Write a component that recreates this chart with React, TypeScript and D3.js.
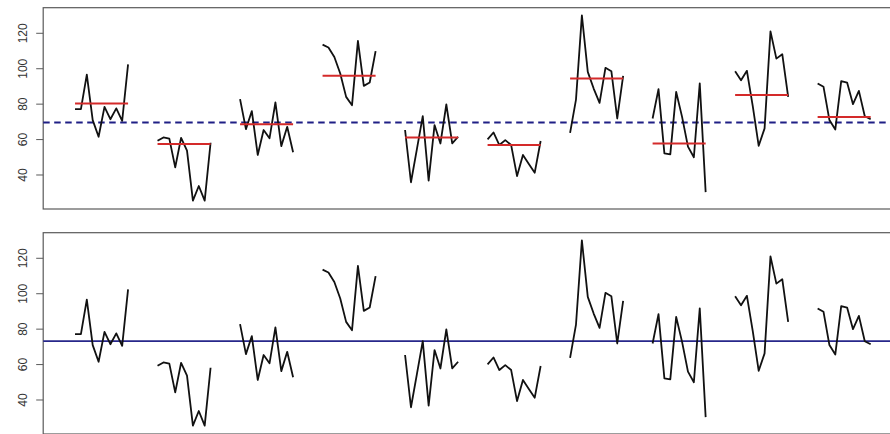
import React from "react";
import * as d3 from "d3";

const groupValues: number[][] = [
  [77.2, 77.2, 96.7, 71.0, 61.6, 78.5, 71.5, 77.6, 70.6, 102.4],
  [59.3, 61.2, 60.5, 44.3, 61.0, 53.7, 25.5, 33.8, 25.5, 58.2],
  [82.8, 65.9, 76.1, 51.3, 65.4, 60.7, 81.0, 56.3, 67.2, 52.8],
  [113.6, 112.0, 106.6, 97.3, 84.1, 79.4, 115.7, 90.3, 92.2, 109.9],
  [65.4, 35.9, 54.5, 73.2, 36.8, 68.2, 57.8, 79.8, 57.8, 61.6],
  [60.1, 64.0, 56.9, 59.7, 56.9, 39.4, 51.3, 46.2, 41.3, 59.2],
  [63.8, 82.6, 130.1, 98.2, 88.8, 80.7, 100.5, 98.6, 71.9, 95.9],
  [71.9, 88.5, 52.2, 51.6, 86.9, 72.8, 56.0, 50.0, 91.7, 30.3],
  [98.6, 93.5, 98.8, 78.7, 56.5, 66.3, 121.1, 105.7, 108.2, 84.1],
  [91.7, 89.8, 71.0, 65.7, 93.0, 92.2, 80.0, 87.5, 73.2, 71.5],
];
const groupMeans: number[] = [80.4, 57.5, 68.7, 96.0, 61.2, 56.9, 94.5, 57.8, 85.1, 72.8];
const topReference = 69.7;
const bottomReference = 73.2;
const yTicks: number[] = [40, 60, 80, 100, 120];
const groupStride = 14;

const W = 890;
const H = 434;
const plotLeft = 43.2;
const plotRight = 902.5;
const panelTops = [7.7, 232.7];
const panelHeight = 201.3;

const xFirst = 1;
const xLast = 1 + groupStride * (groupValues.length - 1) + (groupValues[0].length - 1);
const xPad = (xLast - xFirst) * 0.04;
const x = d3.scaleLinear().domain([xFirst - xPad, xLast + xPad]).range([plotLeft, plotRight]);

const idx = (g: number, j: number) => 1 + groupStride * g + j;

function Panel({ top, showMeans }: { top: number; showMeans: boolean }) {
  const y = d3.scaleLinear().domain([20.8, 134.45]).range([top + panelHeight, top]);
  return (
    <g>
      <rect
        x={plotLeft}
        y={top}
        width={plotRight - plotLeft}
        height={panelHeight}
        fill="none"
        stroke="#5a5a5a"
        strokeWidth={1.2}
      />
      {yTicks.map((t) => (
        <g key={t}>
          <line x1={plotLeft - 7} x2={plotLeft} y1={y(t)} y2={y(t)} stroke="#5a5a5a" strokeWidth={1} />
          <text
            transform={`translate(${22.5},${y(t)}) rotate(-90)`}
            textAnchor="middle"
            dominantBaseline="central"
            fontFamily="Liberation Sans, Arial, sans-serif"
            fontSize={12}
            fill="#333"
          >
            {t}
          </text>
        </g>
      ))}
      {showMeans ? (
        <line
          x1={plotLeft}
          x2={plotRight}
          y1={y(topReference)}
          y2={y(topReference)}
          stroke="#1f1f85"
          strokeWidth={2}
          strokeDasharray="6.5,4.5"
        />
      ) : (
        <line
          x1={plotLeft}
          x2={plotRight}
          y1={y(bottomReference)}
          y2={y(bottomReference)}
          stroke="#27278a"
          strokeWidth={1.8}
        />
      )}
      {groupValues.map((vals, g) => {
        const l = d3
          .line<number>()
          .x((_, j) => x(idx(g, j)))
          .y((v) => y(v));
        return (
          <g key={g}>
            <path d={l(vals) || ""} fill="none" stroke="#111" strokeWidth={1.8} strokeLinejoin="round" />
            {showMeans && (
              <line
                x1={x(idx(g, 0))}
                x2={x(idx(g, vals.length - 1))}
                y1={y(groupMeans[g])}
                y2={y(groupMeans[g])}
                stroke="#d42a2a"
                strokeWidth={2}
              />
            )}
          </g>
        );
      })}
    </g>
  );
}

export default function App() {
  return (
    <svg
      width={W}
      height={H}
      style={{ position: "absolute", left: 0, top: 0, background: "#fff" }}
    >
      <rect x={0} y={0} width={W} height={H} fill="#fff" />
      <Panel top={panelTops[0]} showMeans={true} />
      <Panel top={panelTops[1]} showMeans={false} />
    </svg>
  );
}
